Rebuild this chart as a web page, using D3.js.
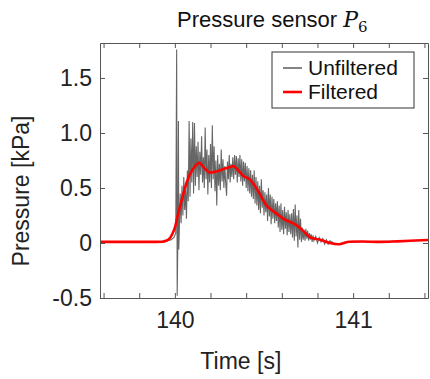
<!DOCTYPE html>
<html>
<head>
<meta charset="utf-8">
<script src="https://d3js.org/d3.v7.min.js"></script>
<style>
  body { margin: 0; background: white; }
  text { font-family: "Liberation Sans", Arial, Helvetica, sans-serif; }
</style>
</head>
<body>
<div id="chart"></div>
<script>
// x ticks every 0.2 s, labels only on whole seconds
var xTicks = [139.6, 139.8, 140, 140.2, 140.4, 140.6, 140.8, 141, 141.2, 141.4];
var xTickLabels = {140: "140", 141: "141"};
var yTicks = [-0.5, 0, 0.5, 1.0, 1.5];
var yTickLabels = ["-0.5", "0", "0.5", "1.0", "1.5"];
var seriesNames = ["Unfiltered", "Filtered"];

// raw sensor trace [time s, pressure kPa]
var rawSignal = [
  [139.58, 0.01], [139.65, 0.012], [139.72, 0.008], [139.80, 0.014], [139.87, 0.01],
  [139.93, 0.015], [139.96, 0.02], [139.98, 0.03], [139.995, 0.05], [140.005, 0.09],
  [140.010, 1.76], [140.013, -0.48], [140.017, 0.06], [140.020, 1.11], [140.022, -0.06],
  [140.025, 0.12], [140.030, 0.45], [140.035, 0.18], [140.040, 0.52], [140.045, 0.25],
  [140.050, 0.60], [140.055, 0.30], [140.060, 0.48], [140.065, 0.22], [140.070, 0.66],
  [140.075, 0.38], [140.080, 1.11], [140.085, 0.42], [140.090, 0.95], [140.095, 0.55],
  [140.100, 1.10], [140.105, 0.45], [140.110, 1.09], [140.115, 0.52], [140.120, 0.88],
  [140.125, 0.60], [140.130, 0.92], [140.135, 0.48], [140.140, 0.83], [140.145, 0.62],
  [140.150, 0.97], [140.155, 0.55], [140.160, 0.78], [140.165, 0.50], [140.170, 1.05],
  [140.175, 0.58], [140.180, 0.85], [140.185, 0.44], [140.190, 0.80], [140.195, 0.55],
  [140.200, 0.90], [140.205, 0.50], [140.210, 1.07], [140.215, 0.58], [140.220, 0.88],
  [140.225, 0.47], [140.230, 0.75], [140.235, 0.34], [140.240, 0.80], [140.245, 0.52],
  [140.250, 0.72], [140.255, 0.48], [140.260, 0.85], [140.265, 0.56], [140.270, 0.76],
  [140.275, 0.50], [140.280, 0.70], [140.285, 0.55], [140.290, 0.43], [140.295, 0.74],
  [140.300, 0.58], [140.305, 0.80], [140.310, 0.55], [140.315, 0.72], [140.320, 0.60],
  [140.325, 0.78], [140.330, 0.58], [140.335, 0.80], [140.340, 0.62], [140.345, 0.79],
  [140.350, 0.55], [140.355, 0.77], [140.360, 0.60], [140.365, 0.80], [140.370, 0.56],
  [140.375, 0.76], [140.380, 0.52], [140.385, 0.74], [140.390, 0.56], [140.395, 0.73],
  [140.400, 0.50], [140.405, 0.70], [140.410, 0.47], [140.415, 0.68], [140.420, 0.45],
  [140.425, 0.66], [140.430, 0.42], [140.435, 0.62], [140.440, 0.40], [140.445, 0.66],
  [140.450, 0.36], [140.455, 0.60], [140.460, 0.34], [140.465, 0.56], [140.470, 0.30],
  [140.475, 0.52], [140.480, 0.27], [140.485, 0.58], [140.490, 0.32], [140.495, 0.48],
  [140.500, 0.25], [140.505, 0.46], [140.510, 0.28], [140.515, 0.44], [140.520, 0.20],
  [140.525, 0.50], [140.530, 0.24], [140.535, 0.44], [140.540, 0.17], [140.545, 0.42],
  [140.550, 0.22], [140.555, 0.40], [140.560, 0.18], [140.565, 0.36], [140.570, 0.20],
  [140.575, 0.38], [140.580, 0.14], [140.585, 0.34], [140.590, 0.10], [140.595, 0.36],
  [140.600, 0.12], [140.605, 0.30], [140.610, 0.08], [140.615, 0.33], [140.620, 0.13],
  [140.625, 0.28], [140.630, 0.07], [140.635, 0.30], [140.640, 0.10], [140.645, 0.26],
  [140.650, 0.08], [140.655, 0.27], [140.660, 0.05], [140.665, 0.31], [140.670, 0.02],
  [140.675, 0.35], [140.680, 0.06], [140.685, 0.25], [140.690, -0.04], [140.695, 0.30],
  [140.700, 0.03], [140.705, 0.22], [140.710, 0.01], [140.715, 0.14], [140.720, 0.03],
  [140.725, 0.12], [140.730, 0.02], [140.735, 0.13], [140.740, 0.04], [140.745, 0.11],
  [140.750, 0.02], [140.755, 0.09], [140.760, 0.03], [140.765, 0.08], [140.770, 0.01],
  [140.775, 0.07], [140.780, 0.02], [140.790, 0.06], [140.800, 0.00], [140.810, 0.05],
  [140.820, 0.01], [140.830, 0.04], [140.840, -0.01], [140.850, 0.03], [140.860, -0.01],
  [140.870, 0.02], [140.890, 0.00], [140.920, -0.01], [140.960, 0.01], [141.00, 0.015],
  [141.10, 0.01], [141.20, 0.015], [141.30, 0.02], [141.42, 0.025]
];

// low-pass filtered trace [time s, pressure kPa]
var filteredSignal = [
  [139.58, 0.01], [139.70, 0.01], [139.86, 0.01], [139.93, 0.012], [139.95, 0.02],
  [139.97, 0.04], [139.985, 0.08], [140.00, 0.14], [140.02, 0.28], [140.04, 0.40],
  [140.066, 0.55], [140.10, 0.67], [140.12, 0.71], [140.137, 0.73], [140.16, 0.69],
  [140.197, 0.64], [140.234, 0.65], [140.27, 0.67], [140.31, 0.69], [140.33, 0.70],
  [140.35, 0.67], [140.384, 0.61], [140.42, 0.58], [140.46, 0.49], [140.515, 0.34],
  [140.56, 0.28], [140.61, 0.22], [140.684, 0.16], [140.72, 0.11], [140.76, 0.05],
  [140.815, 0.03], [140.87, 0.00], [140.918, -0.012], [140.98, 0.012], [141.05, 0.013],
  [141.15, 0.01], [141.25, 0.015], [141.35, 0.022], [141.42, 0.027]
];

var width = 430, height = 379;
var margin = {left: 100, right: 2, top: 43, bottom: 81};
var plotW = width - margin.left - margin.right;
var plotH = height - margin.top - margin.bottom;

var svg = d3.select('#chart')
  .append('svg')
  .attr('width', width)
  .attr('height', height);

var x = d3.scaleLinear().domain([139.58, 141.42]).range([margin.left, margin.left + plotW]);
var y = d3.scaleLinear().domain([-0.5, 1.818]).range([margin.top + plotH, margin.top]);

svg.append('clipPath').attr('id', 'plotClip')
  .append('rect')
  .attr('x', margin.left).attr('y', margin.top)
  .attr('width', plotW).attr('height', plotH);

var line = d3.line()
  .x(function(d) { return x(d[0]); })
  .y(function(d) { return y(d[1]); });

var lines = svg.append('g').attr('clip-path', 'url(#plotClip)');

lines.append('path')
  .datum(rawSignal)
  .attr('fill', 'none')
  .attr('stroke', '#666666')
  .attr('stroke-width', 1.1)
  .attr('d', line);

lines.append('path')
  .datum(filteredSignal)
  .attr('fill', 'none')
  .attr('stroke', '#ff0000')
  .attr('stroke-width', 2.6)
  .attr('stroke-linejoin', 'round')
  .attr('d', d3.line().curve(d3.curveMonotoneX)
    .x(function(d) { return x(d[0]); })
    .y(function(d) { return y(d[1]); }));

// axes: inward ticks on all four sides
var axisColor = '#555555';
var tickLen = 5;

var xBottom = svg.append('g')
  .attr('transform', 'translate(0,' + (margin.top + plotH) + ')')
  .call(d3.axisBottom(x).tickValues(xTicks).tickSizeInner(-tickLen).tickSizeOuter(0)
    .tickFormat(function(d) { return xTickLabels[d] || ''; }));
var xTop = svg.append('g')
  .attr('transform', 'translate(0,' + margin.top + ')')
  .call(d3.axisTop(x).tickValues(xTicks).tickSizeInner(-tickLen).tickSizeOuter(0)
    .tickFormat(''));
var yLeft = svg.append('g')
  .attr('transform', 'translate(' + margin.left + ',0)')
  .call(d3.axisLeft(y).tickValues(yTicks).tickSizeInner(-tickLen).tickSizeOuter(0)
    .tickFormat(function(d, i) { return yTickLabels[i]; }));
var yRight = svg.append('g')
  .attr('transform', 'translate(' + (margin.left + plotW) + ',0)')
  .call(d3.axisRight(y).tickValues(yTicks).tickSizeInner(-tickLen).tickSizeOuter(0)
    .tickFormat(''));

[xBottom, xTop, yLeft, yRight].forEach(function(g) {
  g.select('.domain').attr('stroke', axisColor);
  g.selectAll('.tick line').attr('stroke', axisColor);
  g.selectAll('.tick text')
    .attr('fill', '#222')
    .style('font-size', '23px')
    .style('font-family', '"Liberation Sans", Arial, sans-serif');
});
xBottom.selectAll('.tick text').attr('y', 14).attr('dy', '0.71em');
yLeft.selectAll('.tick text').attr('x', -8);

// labels
svg.append('text')
  .attr('x', x(140.37)).attr('y', 369)
  .attr('text-anchor', 'middle')
  .style('font-size', '23px')
  .attr('fill', '#222')
  .text('Time [s]');

svg.append('text')
  .attr('transform', 'translate(29,191) rotate(-90)')
  .attr('text-anchor', 'middle')
  .style('font-size', '23px')
  .attr('fill', '#222')
  .text('Pressure [kPa]');

var title = svg.append('text')
  .attr('x', 177).attr('y', 27)
  .style('font-size', '22px')
  .attr('fill', '#111');
title.append('tspan').text('Pressure sensor ');
title.append('tspan')
  .style('font-family', '"DejaVu Serif", "Liberation Serif", serif')
  .style('font-style', 'italic')
  .text('P');
title.append('tspan')
  .attr('dy', 5)
  .style('font-family', '"DejaVu Serif", "Liberation Serif", serif')
  .style('font-size', '15px')
  .text('6');

// legend
var legend = svg.append('g').attr('transform', 'translate(272,52)');
legend.append('rect')
  .attr('width', 142).attr('height', 56)
  .attr('fill', 'white')
  .attr('stroke', '#333')
  .attr('stroke-width', 1);

var legendColors = ['#666666', '#ff0000'];
var legendWidths = [1.6, 2.6];
var rows = legend.selectAll('g.row')
  .data(seriesNames)
  .enter().append('g')
  .attr('class', 'row')
  .attr('transform', function(d, i) { return 'translate(0,' + (16 + i * 24) + ')'; });

rows.append('line')
  .attr('x1', 11).attr('x2', 30)
  .attr('stroke', function(d, i) { return legendColors[i]; })
  .attr('stroke-width', function(d, i) { return legendWidths[i]; });

rows.append('text')
  .attr('x', 36).attr('dy', '0.35em')
  .style('font-size', '21px')
  .attr('fill', '#111')
  .text(function(d) { return d; });
</script>
</body>
</html>
